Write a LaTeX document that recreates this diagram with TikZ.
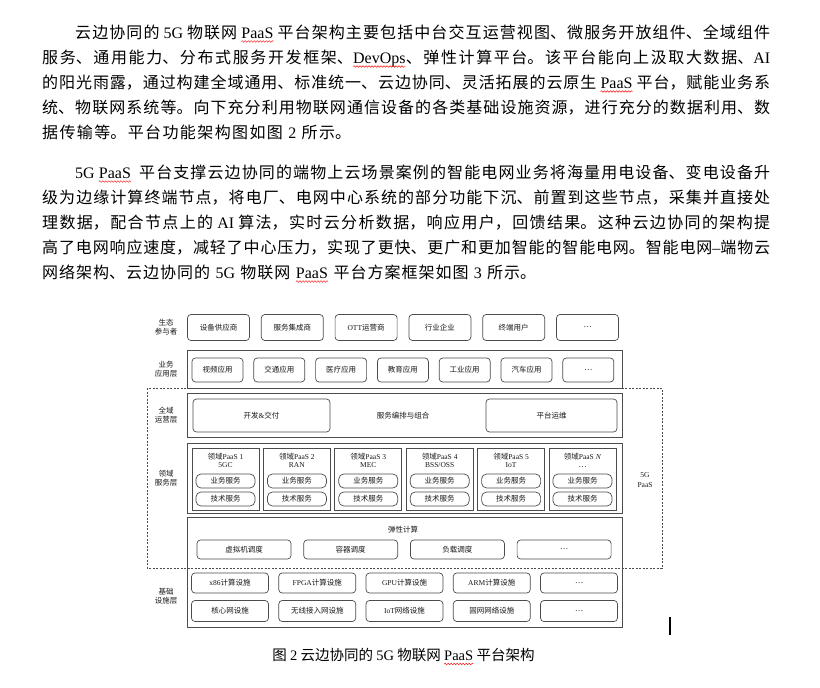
\documentclass[tikz,border=0pt]{standalone}
\usepackage{fontspec}
\setmainfont{Noto Sans CJK SC}
\newfontfamily\lat{Liberation Serif}
\usetikzlibrary{decorations.pathmorphing}
\XeTeXlinebreaklocale "zh"
\XeTeXlinebreakskip=0.5pt plus 3pt

\newcommand\en[1]{{\lat #1}}
% red wavy underline of the spell checker
\newcommand\wavy[1]{\tikz[baseline=(wv.base)]{\node[inner sep=0pt,outer sep=0pt,text width=] (wv) {#1};
  \draw[red,line width=0.45pt,decorate,decoration={snake,amplitude=0.8pt,segment length=3pt}]
    ([yshift=-3.5pt]wv.base west) -- ([yshift=-3.5pt]wv.base east);}}

\tikzset{
  textline/.style={anchor=base west, inner sep=0pt, text width=728pt, align=justify, font=\fontsize{16}{25}\selectfont},
  lastline/.style={anchor=base west, inner sep=0pt, text width=728pt, align=left, font=\fontsize{16}{25}\selectfont},
  layer/.style={draw=black!70, line width=0.8pt},
  cell/.style={draw=black!70, line width=0.7pt, rounded corners=3.5pt, inner sep=0pt, text=black!90, font=\fontsize{7.5}{9}\selectfont},
  tag/.style={align=center, inner sep=0pt, text=black!90, font=\fontsize{7.5}{9.5}\selectfont},
}

\begin{document}
\begin{tikzpicture}[x=1pt,y=-1pt]

 % page
 \fill[white] (0,0) rectangle (820,688);
 \useasboundingbox (0,0) rectangle (820,688);

 % first paragraph
 \node[textline] (p1-1) at (42,38) {{\parfillskip=0pt\hspace*{33pt}云边协同的 \en{5G} 物联网 \wavy{\en{PaaS}} 平台架构主要包括中台交互运营视图、微服务开放组件、全域组件\par}};
 \node[textline] (p1-2) at (42,63) {{\parfillskip=0pt 服务、通用能力、分布式服务开发框架、\wavy{\en{DevOps}}、弹性计算平台。该平台能向上汲取大数据、\en{AI}\par}};
 \node[textline] (p1-3) at (42,88) {{\parfillskip=0pt 的阳光雨露，通过构建全域通用、标准统一、云边协同、灵活拓展的云原生 \wavy{\en{PaaS}} 平台，赋能业务系\par}};
 \node[textline] (p1-4) at (42,113) {{\parfillskip=0pt 统、物联网系统等。向下充分利用物联网通信设备的各类基础设施资源，进行充分的数据利用、数\par}};
 \node[lastline] (p1-5) at (42,138) {{\XeTeXlinebreakskip=1.4pt 据传输等。平台功能架构图如图 \en{2} 所示。\par}};

 % second paragraph
 \node[textline] (p2-1) at (42,178) {{\parfillskip=0pt\hspace*{33pt}\en{5G} \wavy{\en{PaaS}}\enspace 平台支撑云边协同的端物上云场景案例的智能电网业务将海量用电设备、变电设备升\par}};
 \node[textline] (p2-2) at (42,203) {{\parfillskip=0pt 级为边缘计算终端节点，将电厂、电网中心系统的部分功能下沉、前置到这些节点，采集并直接处\par}};
 \node[textline] (p2-3) at (42,228) {{\parfillskip=0pt 理数据，配合节点上的 \en{AI} 算法，实时云分析数据，响应用户，回馈结果。这种云边协同的架构提\par}};
 \node[textline] (p2-4) at (42,253) {{\parfillskip=0pt 高了电网响应速度，减轻了中心压力，实现了更快、更广和更加智能的智能电网。智能电网\en{–}端物云\par}};
 \node[lastline] (p2-5) at (42,278) {{\XeTeXlinebreakskip=1pt 网络架构、云边协同的 \en{5G} 物联网 \wavy{\en{PaaS}} 平台方案框架如图 \en{3} 所示。\par}};

 % ecosystem participants
 \node[tag] (eco) at (166,327) {生态\\参与者};
 \foreach \t [count=\i from 0] in {设备供应商, 服务集成商, \en{OTT}运营商, 行业企业, 终端用户, …}
   \node[cell, minimum width=62pt, minimum height=26pt] (eco-\i) at (218.5+73.8*\i,327.5) {\t};

 % business applications
 \draw[layer] (187,350) rectangle (622,388);
 \node[tag] (app) at (166,369) {业务\\应用层};
 \foreach \t [count=\i from 0] in {视频应用, 交通应用, 医疗应用, 教育应用, 工业应用, 汽车应用, …}
   \node[cell, minimum width=51pt, minimum height=24pt] (app-\i) at (217.5+61.8*\i,370) {\t};

 % global operation
 \draw[layer] (187,393) rectangle (622,437);
 \node[tag] (ops) at (166,415) {全域\\运营层};
 \node[cell, minimum width=137pt, minimum height=33pt] (dev) at (261.5,415.5) {开发\en{\&}交付};
 \node[tag] (orch) at (403,416) {服务编排与组合};
 \node[cell, minimum width=131pt, minimum height=33pt] (maint) at (551.5,415.5) {平台运维};

 % domain services
 \draw[layer] (187,443) rectangle (622,513);
 \node[tag] (dom) at (166,478) {领域\\服务层};
 \foreach \t [count=\i from 0] in {{领域\en{PaaS 1}\\\en{5GC}}, {领域\en{PaaS 2}\\\en{RAN}}, {领域\en{PaaS 3}\\\en{MEC}},
     {领域\en{PaaS 4}\\\en{BSS/OSS}}, {领域\en{PaaS 5}\\\en{IoT}}, {领域\en{PaaS \textit{N}}\\…}}
 {
   \node[layer, inner sep=0pt, minimum width=67pt, minimum height=62pt] (dom-\i) at (225.5+71.4*\i,479) {};
   \node[tag, font=\fontsize{7.5}{8}\selectfont] (dom-\i-t) at (225.5+71.4*\i,460) {\t};
   \node[cell, rounded corners=5pt, minimum width=59pt, minimum height=14pt] (dom-\i-a) at (225.5+71.4*\i,481) {业务服务};
   \node[cell, rounded corners=5pt, minimum width=59pt, minimum height=14pt] (dom-\i-b) at (225.5+71.4*\i,499) {技术服务};
 }
 \node[tag] (paas) at (645,480) {\en{5G}\\\en{PaaS}};

 % elastic computing and infrastructure
 \draw[layer] (187,517) rectangle (622,627);
 \node[tag] (elastic) at (403,530) {弹性计算};
 \foreach \t [count=\i from 0] in {虚拟机调度, 容器调度, 负载调度, …}
   \node[cell, minimum width=94pt, minimum height=19pt] (vm-\i) at (244+106.7*\i,549.5) {\t};

 \node[tag] (infra) at (166,596) {基础\\设施层};
 \foreach \t [count=\i from 0] in {\en{x86}计算设施, \en{FPGA}计算设施, \en{GPU}计算设施, \en{ARM}计算设施, …}
   \node[cell, minimum width=77pt, minimum height=20pt] (hw-\i) at (230+87.25*\i,583) {\t};
 \foreach \t [count=\i from 0] in {核心网设施, 无线接入网设施, \en{IoT}网络设施, 固网网络设施, …}
   \node[cell, minimum width=77pt, minimum height=21pt] (net-\i) at (230+87.25*\i,611) {\t};

 % 5G PaaS frame
 \draw[layer, dash pattern=on 2pt off 1.5pt] (147,388) rectangle (662,568);

 % caption and cursor
 \node[anchor=base, inner sep=0pt, font=\fontsize{14.5}{16}\selectfont] (caption) at (403.5,660.5)
   {图 \en{2} 云边协同的 \en{5G} 物联网 \wavy{\en{PaaS}} 平台架构};
 \draw[line width=1.5pt] (670,617) -- (670,635);

\end{tikzpicture}
\end{document}
